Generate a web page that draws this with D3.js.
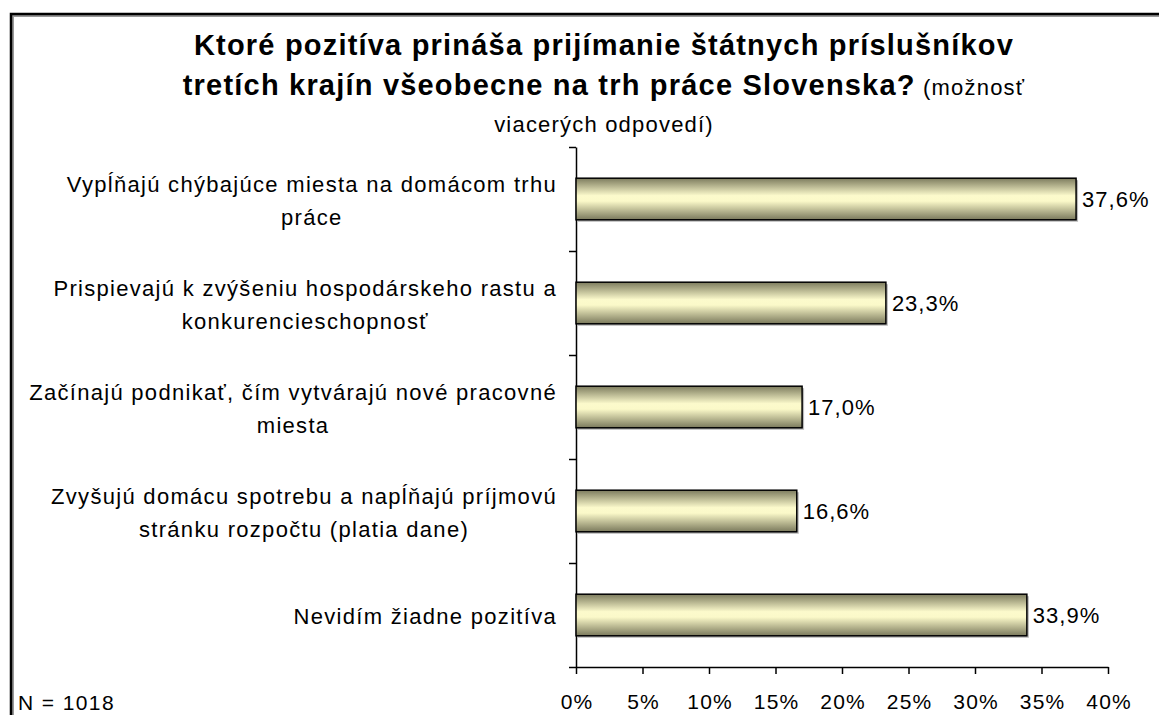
<!DOCTYPE html>
<html><head><meta charset="utf-8">
<script src="https://cdn.jsdelivr.net/npm/d3@7"></script>
<style>
html,body{margin:0;padding:0;background:#fff;}
text{font-family:"Liberation Sans",Arial,sans-serif;fill:#000;}
</style></head>
<body><svg id="c" width="1159" height="715"></svg>
<script>
const categories = [
  ["Vypĺňajú chýbajúce miesta na domácom trhu", "práce"],
  ["Prispievajú k zvýšeniu hospodárskeho rastu a", "konkurencieschopnosť"],
  ["Začínajú podnikať, čím vytvárajú nové pracovné", "miesta"],
  ["Zvyšujú domácu spotrebu a napĺňajú príjmovú", "stránku rozpočtu (platia dane)"],
  ["Nevidím žiadne pozitíva"]
];
const values = [37.6, 23.3, 17.0, 16.6, 33.9];
const xTicks = [0, 5, 10, 15, 20, 25, 30, 35, 40];
const titleLines = ["Ktoré pozitíva prináša prijímanie štátnych príslušníkov", "tretích krajín všeobecne na trh práce Slovenska?"];
const titleNote = [" (možnosť", "viacerých odpovedí)"];
const footnote = "N = 1018";

const svg = d3.select("#c");
const defs = svg.append("defs");
const g1 = defs.append("linearGradient").attr("id","barGrad").attr("x1",0).attr("y1",0).attr("x2",0).attr("y2",1);
g1.append("stop").attr("offset","0%").attr("stop-color","#7d7c5e");
g1.append("stop").attr("offset","42%").attr("stop-color","#fcfacc");
g1.append("stop").attr("offset","55%").attr("stop-color","#fbf9c9");
g1.append("stop").attr("offset","100%").attr("stop-color","#7a795c");

// frame
svg.append("rect").attr("x",13).attr("y",16).attr("width",1200).attr("height",800).attr("fill","none").attr("stroke","#999").attr("stroke-width",2);
svg.append("rect").attr("x",11).attr("y",14).attr("width",1200).attr("height",800).attr("fill","none").attr("stroke","#000").attr("stroke-width",2.5);

const pLeft = 576, pRight = 1108, pTop = 147, pBottom = 667;
const x = d3.scaleLinear().domain([0,40]).range([pLeft,pRight]);
const y = d3.scaleBand().domain(d3.range(categories.length)).range([pTop,pBottom]).paddingInner(0.6).paddingOuter(0.3);
const yb = d3.scaleLinear().domain([0,categories.length]).range([pTop,pBottom]);

// axes
const ya = svg.append("g").attr("transform",`translate(${pLeft},0)`)
  .call(d3.axisLeft(yb).tickValues(d3.range(categories.length+1)).tickFormat("").tickSize(7).tickSizeOuter(0));
ya.select(".domain").attr("stroke","#000").attr("stroke-width",1.5);
ya.selectAll(".tick line").attr("stroke","#000").attr("stroke-width",1.5);

const xa = svg.append("g").attr("transform",`translate(0,${pBottom})`)
  .call(d3.axisBottom(x).tickValues(xTicks).tickFormat(d=>d+"%").tickSize(7).tickSizeOuter(0).tickPadding(20));
xa.select(".domain").attr("stroke","#000").attr("stroke-width",1.5);
xa.selectAll(".tick line").attr("stroke","#000").attr("stroke-width",1.5);
xa.selectAll(".tick text").attr("font-size",21).attr("letter-spacing",1.2).attr("dx",0.6)
  .attr("font-family","Liberation Sans, Arial, sans-serif").attr("fill","#000");

// bars
svg.selectAll(".shadow").data(values).join("rect")
  .attr("x",x(0)+2).attr("y",(d,i)=>y(i)+2).attr("width",d=>x(d)-x(0)).attr("height",y.bandwidth())
  .attr("fill","#bbb");
svg.selectAll(".bar").data(values).join("rect")
  .attr("x",x(0)).attr("y",(d,i)=>y(i)).attr("width",d=>x(d)-x(0)).attr("height",y.bandwidth())
  .attr("fill","url(#barGrad)").attr("stroke","#000").attr("stroke-width",1.5);

// value labels
svg.selectAll(".val").data(values).join("text")
  .attr("x",d=>x(d)+6).attr("y",(d,i)=>y(i)+y.bandwidth()/2).attr("dy","0.36em")
  .attr("font-size",22).attr("letter-spacing",1).text(d=>d.toFixed(1).replace(".",",")+"%");

// category labels
const labelRight = 557, lineH = 33;
categories.forEach((lines,i)=>{
  const cy = y(i)+y.bandwidth()/2 + 1.5;
  const grp = svg.append("g");
  const ts = lines.map((l,k)=>grp.append("text").attr("font-size",22).attr("letter-spacing",1.3).attr("text-anchor","middle")
     .attr("y", cy + (k-(lines.length-1)/2)*lineH).attr("dy","0.35em").text(l));
  const w = d3.max(ts, t=>t.node().getComputedTextLength());
  ts.forEach(t=>t.attr("x", labelRight - w/2));
});

// title
const tc = 604;
svg.append("text").attr("x",tc).attr("y",55).attr("text-anchor","middle").attr("font-size",29).attr("letter-spacing",1.2).attr("font-weight","bold").text(titleLines[0]);
const t2 = svg.append("text").attr("x",tc).attr("y",95).attr("text-anchor","middle");
t2.append("tspan").attr("font-size",29).attr("letter-spacing",1.2).attr("font-weight","bold").text(titleLines[1]);
t2.append("tspan").attr("font-size",22).attr("letter-spacing",1.2).text(titleNote[0]);
svg.append("text").attr("x",tc).attr("y",132).attr("text-anchor","middle").attr("font-size",22).attr("letter-spacing",1.2).text(titleNote[1]);

svg.append("text").attr("x",18).attr("y",710).attr("font-size",21).attr("letter-spacing",1.4).text(footnote);
</script></body></html>
